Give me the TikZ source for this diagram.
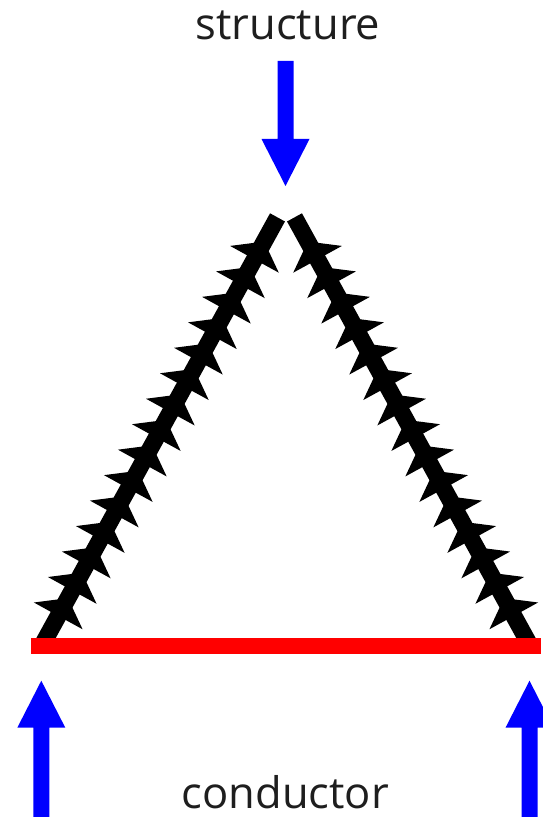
\documentclass[tikz,border=0pt]{standalone}
\usepackage{fontspec}
\setmainfont{Open Sans}
\usetikzlibrary{calc}
\definecolor{txt}{HTML}{1E1E1E}
\definecolor{arrblue}{HTML}{0000FF}
\definecolor{basered}{HTML}{FF0000}
\tikzset{
  label text/.style={font=\fontsize{43.5}{50}\selectfont, text=txt, inner sep=0pt, anchor=base},
  bluearr/.style={fill=arrblue},
  zigline/.style={draw=black, line width=17pt, line cap=butt},
  starfill/.style={fill=black},
  baseline bar/.style={fill=basered}
}
\begin{document}
\begin{tikzpicture}[x=1pt,y=1pt]
\useasboundingbox (0,0) rectangle (543,817);
% texts
\node[label text] (structure) at (288,777) {structure};
\node[label text] (conductor) at (285.3,9) {conductor};
% line end points
\coordinate (Ltop) at (277.5,599.6);
\coordinate (Lbot) at (43.9,175.1);
\coordinate (Rtop) at (294.5,599.6);
\coordinate (Rbot) at (528.1,175.1);
% black lines
\draw[zigline] (Lbot) -- (Ltop);
\draw[zigline] (Rbot) -- (Rtop);
% star spikes (stars strung along each line, their two upward points left out)
\foreach \k in {0,...,14}{
  \coordinate (sl) at ($(Ltop)!{0.0801+0.06*\k}!(Lbot)$);
  \fill[starfill, shift={(sl)}, rotate=241.2]
    (0:29.2) -- (36:11.2) -- (72:29.2) -- (108:11.2) -- (180:11.2)
    -- (252:11.2) -- (288:29.2) -- (324:11.2) -- cycle;
  \coordinate (sr) at ($(Rtop)!{0.0801+0.06*\k}!(Rbot)$);
  \fill[starfill, shift={(sr)}, rotate=298.8]
    (0:29.2) -- (36:11.2) -- (72:29.2) -- (108:11.2) -- (180:11.2)
    -- (252:11.2) -- (288:29.2) -- (324:11.2) -- cycle;
}
% red base
\coordinate (redL) at (31,163);
\coordinate (redR) at (541,179);
\fill[baseline bar] (redL) rectangle (redR);
% top arrow
\coordinate (topTail) at (285.5,756);
\coordinate (topTip) at (285.5,631);
\fill[bluearr] ($(topTail)+(-8,0)$) -- ($(topTip)+(-8,47)$) -- ($(topTip)+(-24,47)$) -- (topTip)
  -- ($(topTip)+(24,47)$) -- ($(topTip)+(8,47)$) -- ($(topTail)+(8,0)$) -- cycle;
% bottom left arrow
\coordinate (blTail) at (41.3,-5);
\coordinate (blTip) at (41.3,136.3);
\fill[bluearr] ($(blTail)+(-8,0)$) -- ($(blTip)+(-8,-47)$) -- ($(blTip)+(-24,-47)$) -- (blTip)
  -- ($(blTip)+(24,-47)$) -- ($(blTip)+(8,-47)$) -- ($(blTail)+(8,0)$) -- cycle;
% bottom right arrow
\coordinate (brTail) at (529.5,-5);
\coordinate (brTip) at (529.5,136.3);
\fill[bluearr] ($(brTail)+(-8,0)$) -- ($(brTip)+(-8,-47)$) -- ($(brTip)+(-24,-47)$) -- (brTip)
  -- ($(brTip)+(24,-47)$) -- ($(brTip)+(8,-47)$) -- ($(brTail)+(8,0)$) -- cycle;
\end{tikzpicture}
\end{document}
